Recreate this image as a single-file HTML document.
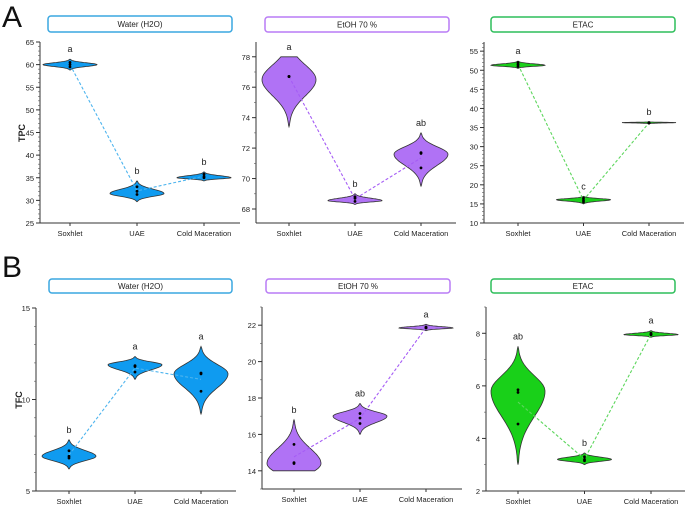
<!DOCTYPE html>
<html><head><meta charset="utf-8">
<style>
html,body{margin:0;padding:0;background:#fff;}
svg{display:block;font-family:"Liberation Sans",Arial,sans-serif;}
</style></head>
<body>
<svg id="fig" width="685" height="507" viewBox="0 0 685 507">
<text x="2" y="27" font-size="30" fill="#111">A</text>
<text x="2" y="277" font-size="30" fill="#111">B</text>
<text transform="translate(25,133) rotate(-90)" text-anchor="middle" font-size="9" font-weight="bold" fill="#222">TPC</text>
<text transform="translate(22,400) rotate(-90)" text-anchor="middle" font-size="9" font-weight="bold" fill="#222">TFC</text>
</svg>
<script>
const categories = ["Soxhlet", "UAE", "Cold Maceration"];
const solvents = ["Water (H2O)", "EtOH 70 %", "ETAC"];
// points per violin (panel order: A-water, A-etoh, A-etac, B-water, B-etoh, B-etac)
const pointsA1 = [[60.5,60,59.5],[33,32,31.3],[35.8,35.3,35]];
const pointsA2 = [[76.7,76.7,76.7],[68.8,68.7,68.5],[71.7,71.65,70.7]];
const pointsA3 = [[52,51.5,51],[16.5,16,15.5],[36.3,36.2,36.2]];
const pointsB1 = [[7.2,6.9,6.8],[11.85,11.8,11.5],[11.45,11.4,10.45]];
const pointsB2 = [[15.45,14.45,14.4],[17.15,16.9,16.6],[21.9,21.85,21.85]];
const pointsB3 = [[5.85,5.75,4.55],[3.3,3.2,3.15],[8.0,7.95,7.95]];
// violin extents [low, high, peak]
const violinA1 = [[58.8,61.2,60.0],[29.7,34.3,31.5],[34.3,36.3,35.0]];
const violinA2 = [[73.4,78.0,76.5],[68.3,69.0,68.55],[69.5,73.0,71.6]];
const violinA3 = [[50.5,52.4,51.3],[15.0,17.0,16.1],[36.0,36.5,36.3]];
const violinB1 = [[6.2,7.8,6.9],[11.1,12.35,11.9],[9.2,12.9,11.4]];
const violinB2 = [[14.0,16.8,14.4],[16.0,17.7,17.0],[21.7,22.05,21.85]];
const violinB3 = [[3.0,7.5,5.8],[3.0,3.45,3.2],[7.85,8.1,7.95]];
// truncated tops/bottoms (virtual extents) for clipped violins
const virtualA2 = [[73.4,79.3],null,null];
const virtualB2 = [[12.8,16.8],null,null];
const lettersA1 = ["a","b","b"], lettersA2 = ["a","b","ab"], lettersA3 = ["a","c","b"];
const lettersB1 = ["b","a","a"], lettersB2 = ["b","ab","a"], lettersB3 = ["ab","b","a"];
const ticksA1 = [25,30,35,40,45,50,55,60,65];
const ticksA2 = [68,70,72,74,76,78];
const ticksA3 = [10,15,20,25,30,35,40,45,50,55];
const ticksB1 = [5,10,15];
const ticksB2 = [14,16,18,20,22];
const ticksB3 = [2,4,6,8];

const colors = [
 {fill:"#0F9BF0", line:"#4DB4EE", box:"#3AA7E0"},
 {fill:"#B072F5", line:"#A55CF5", box:"#B97CF5"},
 {fill:"#19D019", line:"#5DD65D", box:"#2DBE5A"}
];
const panels = [
 {ax:40, top:42, bot:223, min:25, max:65, minor:1, ticks:ticksA1, pts:pointsA1, vio:violinA1, virt:null, let:lettersA1, c:0, off:30, step:67, box:[48,16,184,16], name:"tpc-water"},
 {ax:256, top:42, bot:223, min:67.08, max:78.97, minor:1, ticks:ticksA2, pts:pointsA2, vio:violinA2, virt:virtualA2, let:lettersA2, c:1, off:33, step:66, box:[265,17,184,15], name:"tpc-etoh"},
 {ax:484, top:42, bot:223, min:10, max:57.4, minor:1, ticks:ticksA3, pts:pointsA3, vio:violinA3, virt:null, let:lettersA3, c:2, off:34, step:65.5, box:[491,17,184,15], name:"tpc-etac"},
 {ax:36, top:308, bot:491, min:5, max:15, minor:1, ticks:ticksB1, pts:pointsB1, vio:violinB1, virt:null, let:lettersB1, c:0, off:33, step:66, box:[49,279,183,14], name:"tfc-water"},
 {ax:262, top:307, bot:489, min:13, max:23, minor:1, ticks:ticksB2, pts:pointsB2, vio:violinB2, virt:virtualB2, let:lettersB2, c:1, off:32, step:66, box:[266,279,184,14], name:"tfc-etoh"},
 {ax:486, top:307, bot:491, min:2, max:9, minor:1, ticks:ticksB3, pts:pointsB3, vio:violinB3, virt:null, let:lettersB3, c:2, off:32, step:66.5, box:[491,279,184,14], name:"tfc-etac"}
];
const NS="http://www.w3.org/2000/svg";
const svg=document.getElementById("fig");
function mk(tag, attrs, parent){const e=document.createElementNS(NS,tag);for(const k in attrs)e.setAttribute(k,attrs[k]);(parent||svg).appendChild(e);return e;}

panels.forEach((p,pi)=>{
 const col=colors[p.c];
 const g=mk("g",{});
 
 
 const y=v=>p.bot-(v-p.min)/(p.max-p.min)*(p.bot-p.top);
 const x=i=>p.ax+p.off+p.step*i;
 const bx=mk("rect",{x:p.box[0],y:p.box[1],width:p.box[2],height:p.box[3],rx:3,fill:"#fff",stroke:col.box,"stroke-width":1.5},g);
 
 
 const bt=mk("text",{x:p.box[0]+p.box[2]/2,y:p.box[1]+p.box[3]/2+3,"text-anchor":"middle","font-size":8,fill:"#222"},g);
 bt.textContent=solvents[p.c];
 
 
 const xr=p.ax+200;
 const yl=mk("line",{x1:p.ax,y1:p.top,x2:p.ax,y2:p.bot,stroke:"#333","stroke-width":1},g);
 
 
 const xl=mk("line",{x1:p.ax,y1:p.bot,x2:xr,y2:p.bot,stroke:"#333","stroke-width":1},g);
 
 
 for(let v=Math.ceil(p.min);v<=p.max;v+=p.minor){
  mk("line",{x1:p.ax-2,y1:y(v),x2:p.ax,y2:y(v),stroke:"#555","stroke-width":0.6},g);
 }
 p.ticks.forEach(t=>{
  mk("line",{x1:p.ax-4,y1:y(t),x2:p.ax,y2:y(t),stroke:"#333","stroke-width":1},g);
  const tl=mk("text",{x:p.ax-6,y:y(t)+3,"text-anchor":"end","font-size":7.5,fill:"#222"},g);
  tl.textContent=t;
  
  
 });
 categories.forEach((c,i)=>{
  mk("line",{x1:x(i),y1:p.bot,x2:x(i),y2:p.bot+3,stroke:"#333","stroke-width":1},g);
  const cl=mk("text",{x:x(i),y:p.bot+13,"text-anchor":"middle","font-size":7.5,fill:"#222"},g);
  cl.textContent=c;
  
  
 });
 const means=p.pts.map(a=>a.reduce((s,v)=>s+v,0)/a.length);
 p.vio.forEach((vv,i)=>{
  const [lo,hi,pk]=vv;
  const virt=p.virt&&p.virt[i]?p.virt[i]:[lo,hi];
  const W=27, N=40, left=[], right=[];
  for(let k=0;k<=N;k++){
   const v=lo+(hi-lo)*k/N;
   let t=v<pk?(pk-v)/(pk-virt[0]):(v-pk)/(virt[1]-pk);
   let w=W*Math.exp(-4.2*t*t);
   if((k===0&&virt[0]===lo)||(k===N&&virt[1]===hi)) w=0;
   right.push([x(i)+w,y(v)]); left.push([x(i)-w,y(v)]);
  }
  const pts=right.concat(left.reverse());
  const d="M"+pts.map(q=>q[0].toFixed(1)+","+q[1].toFixed(1)).join("L")+"Z";
  const vp=mk("path",{d:d,fill:col.fill,stroke:"#333","stroke-width":0.8},g);
  
  
  const lt=mk("text",{x:x(i),y:y(hi)-7,"text-anchor":"middle","font-size":9,fill:"#222"},g);
  lt.textContent=p.let[i];
  
  
 });
 const ml=mk("polyline",{points:means.map((m,i)=>x(i)+","+y(m)).join(" "),fill:"none",stroke:col.line,"stroke-width":1.1,"stroke-dasharray":"3,2"},g);
 
 
 p.pts.forEach((a,i)=>{
  a.forEach(v=>{
   const dp=mk("circle",{cx:x(i),cy:y(v),r:1.4,fill:"#000"},g);
   
   
  });
 });
});
</script>
</body></html>
